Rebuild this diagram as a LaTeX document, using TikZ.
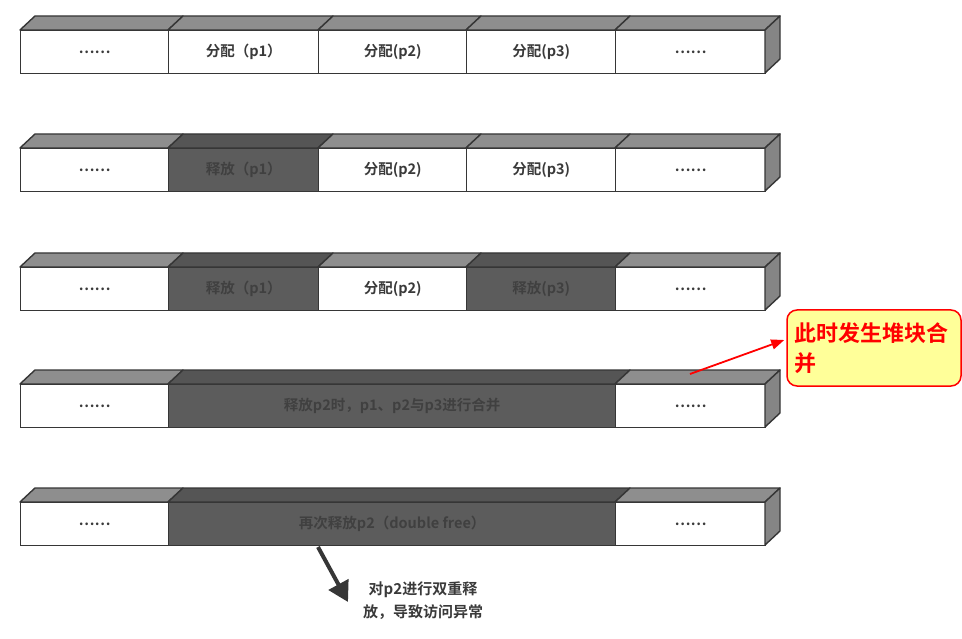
\documentclass[tikz,border=0pt]{standalone}
\usepackage{fontspec}
\setmainfont{Noto Sans CJK SC}[BoldFont={Noto Sans CJK SC Bold}]
\usetikzlibrary{arrows.meta,calc}
\definecolor{edge}{HTML}{363636}
\definecolor{darkcell}{HTML}{5C5C5C}
\definecolor{darktext}{HTML}{404040}
\definecolor{topw}{HTML}{8E8E8E}
\definecolor{topd}{HTML}{555555}
\definecolor{sidec}{HTML}{858585}
\definecolor{calloutfill}{HTML}{FFFF99}
\definecolor{textdark}{HTML}{3A3A3A}
\newcommand\blk[6]{%
  \filldraw[top#5] (#2,#4) -- (#2+15,#4-14) -- (#3+15,#4-14) -- (#3,#4) -- cycle;
  \node[cell#5, minimum width={#3-#2}] (#1) at (#2,#4) {#6};
}
\newcommand\sideface[1]{%
  \filldraw[sideface] (765,#1) -- (780,#1-14) -- (780,#1+29) -- (765,#1+43) -- cycle;
}
\begin{document}
\begin{tikzpicture}[x=1pt,y=-1pt,
  cellbase/.style={draw=edge,line width=1.4pt,minimum height=43pt,inner sep=0pt,anchor=north west,font=\fontsize{14.5}{16}\selectfont\bfseries},
  cellw/.style={cellbase,fill=white,text=textdark},
  celld/.style={cellbase,fill=darkcell,text=darktext},
  topw/.style={draw=edge,line width=1.4pt,fill=topw,line join=round},
  topd/.style={draw=edge,line width=1.4pt,fill=topd,line join=round},
  sideface/.style={draw=edge,line width=1.4pt,fill=sidec,line join=round},
  callout/.style={draw=red,line width=1.5pt,fill=calloutfill,rounded corners=10pt,minimum width=174pt,minimum height=76pt,text width=160pt,align=left,text=red,font=\fontsize{22}{30}\selectfont\bfseries},
  redarrow/.style={draw=red,line width=1.8pt,-{Triangle[length=13pt,width=10pt]}},
  bigarrow/.style={draw=edge,line width=4pt,-{Triangle[length=20pt,width=22pt]}},
  note/.style={font=\fontsize{15}{23}\selectfont\bfseries,text=textdark,align=center}
]
\useasboundingbox (0,0) rectangle (962,639);
% Row 1
\blk{a1}{20}{168}{30}{w}{……}
\blk{a2}{168}{318}{30}{w}{分配（p1）}
\blk{a3}{318}{466}{30}{w}{分配(p2)}
\blk{a4}{466}{615}{30}{w}{分配(p3)}
\blk{a5}{615}{765}{30}{w}{……}
\sideface{30}
% Row 2
\blk{b1}{20}{168}{148}{w}{……}
\blk{b2}{168}{318}{148}{d}{释放（p1）}
\blk{b3}{318}{466}{148}{w}{分配(p2)}
\blk{b4}{466}{615}{148}{w}{分配(p3)}
\blk{b5}{615}{765}{148}{w}{……}
\sideface{148}
% Row 3
\blk{c1}{20}{168}{267}{w}{……}
\blk{c2}{168}{318}{267}{d}{释放（p1）}
\blk{c3}{318}{466}{267}{w}{分配(p2)}
\blk{c4}{466}{615}{267}{d}{释放(p3)}
\blk{c5}{615}{765}{267}{w}{……}
\sideface{267}
% Row 4
\blk{d1}{20}{168}{384}{w}{……}
\blk{d2}{168}{615}{384}{d}{释放p2时，p1、p2与p3进行合并}
\blk{d5}{615}{765}{384}{w}{……}
\sideface{384}
% Row 5
\blk{e1}{20}{168}{502}{w}{……}
\blk{e2}{168}{615}{502}{d}{再次释放p2（double free）}
\blk{e5}{615}{765}{502}{w}{……}
\sideface{502}
% callout
\node[callout] (cb) at (874,348) {此时发生堆块合\\并};
\coordinate (rs) at (690,374);
\draw[redarrow] (rs) -- ([yshift=8pt,xshift=-2pt]cb.west);
% bottom note
\node[note] (nt) at (423,601) {对p2进行双重释\\放，导致访问异常};
\coordinate (bs) at (318,547);
\coordinate (be) at (348,602);
\draw[bigarrow] (bs) -- (be);
\end{tikzpicture}
\end{document}
